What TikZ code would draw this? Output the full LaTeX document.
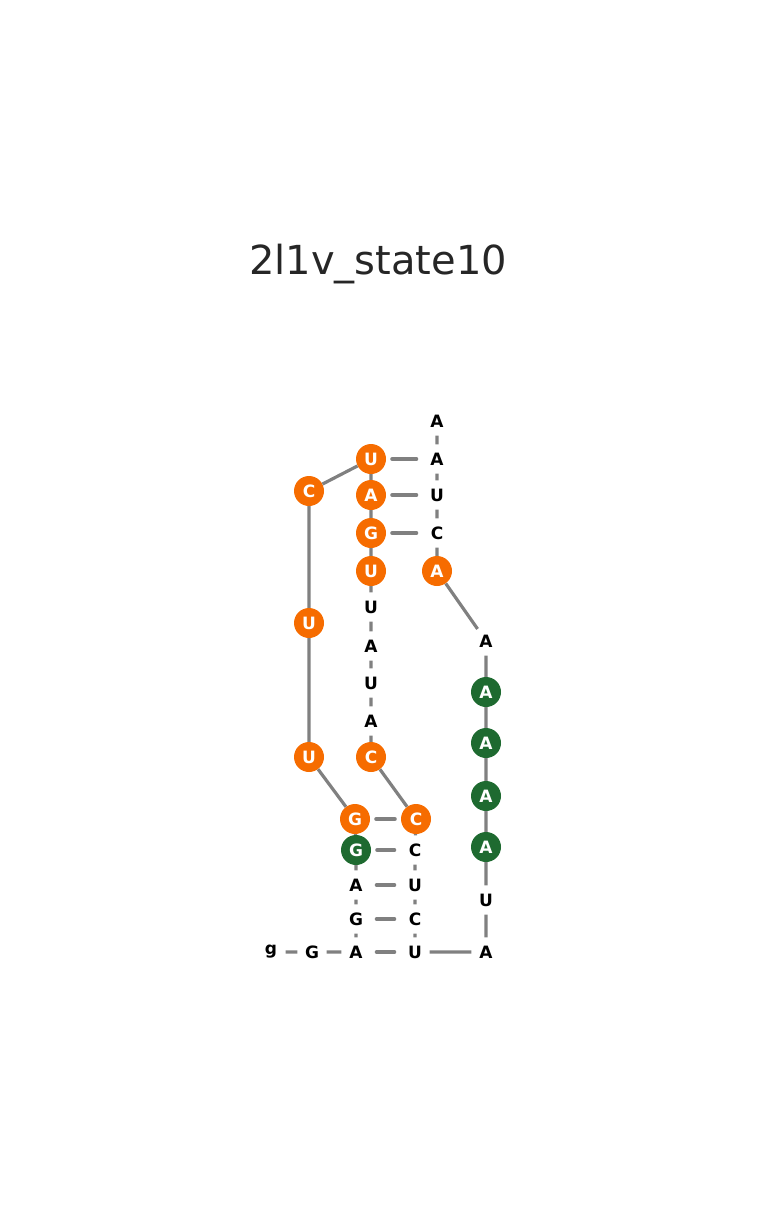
\documentclass[tikz,border=0pt]{standalone}
\usepackage{fontspec}
\setmainfont{DejaVu Sans}
\definecolor{rnaorange}{RGB}{246,108,0}
\definecolor{rnagreen}{RGB}{30,106,48}
\definecolor{titlegray}{RGB}{38,38,38}
\begin{document}
\begin{tikzpicture}[x=1pt, y=-1pt,
  nt/.style={circle, inner sep=0pt, minimum size=29pt, font=\fontsize{17}{17}\selectfont\bfseries},
  ntorange/.style={nt, minimum size=30pt, fill=rnaorange, text=white},
  ntgreen/.style={nt, minimum size=30pt, fill=rnagreen, text=white},
  backbone/.style={line width=3.2pt, gray},
  pair/.style={line width=4pt, gray, line cap=round, shorten <=6pt, shorten >=6pt}]
\useasboundingbox (0,0) rectangle (756,1222);
\node[font=\fontsize{40}{40}\selectfont, text=titlegray, anchor=base] (title) at (378,275) {2l1v\_state10};

% 5' strand
\node[nt] (n1) at (271,952) {g};
\node[nt] (n2) at (312,952) {G};
\node[nt] (n3) at (356,952) {A};
\node[nt] (n4) at (356,919) {G};
\node[nt] (n5) at (356,885) {A};
\node[ntgreen] (n6) at (356,850) {G};
\node[ntorange] (n7) at (355,819) {G};
\node[ntorange] (n8) at (309,757) {U};
\node[ntorange] (n9) at (309,623) {U};
\node[ntorange] (n10) at (309,491) {C};
\node[ntorange] (n11) at (371,459) {U};
\node[ntorange] (n12) at (371,495) {A};
\node[ntorange] (n13) at (371,533) {G};
\node[ntorange] (n14) at (371,571) {U};
\node[nt] (n15) at (371,607) {U};
\node[nt] (n16) at (371,646) {A};
\node[nt] (n17) at (371,683) {U};
\node[nt] (n18) at (371,721) {A};
\node[ntorange] (n19) at (371,757) {C};
\node[ntorange] (n20) at (416,819) {C};
\node[nt] (n21) at (415,850) {C};
\node[nt] (n22) at (415,885) {U};
\node[nt] (n23) at (415,919) {C};
\node[nt] (n24) at (415,952) {U};
% 3' strand
\node[nt] (n25) at (486,952) {A};
\node[nt] (n26) at (486,900) {U};
\node[ntgreen] (n27) at (486,847) {A};
\node[ntgreen] (n28) at (486,796) {A};
\node[ntgreen] (n29) at (486,743) {A};
\node[ntgreen] (n30) at (486,692) {A};
\node[nt] (n31) at (486,641) {A};
\node[ntorange] (n32) at (437,571) {A};
\node[nt] (n33) at (437,533) {C};
\node[nt] (n34) at (437,495) {U};
\node[nt] (n35) at (437,459) {A};
\node[nt] (n36) at (437,421) {A};

% backbone
\draw[backbone] (n1) -- (n2) -- (n3) -- (n4) -- (n5) -- (n6) -- (n7) -- (n8) -- (n9)
  -- (n10) -- (n11) -- (n12) -- (n13) -- (n14) -- (n15) -- (n16) -- (n17) -- (n18)
  -- (n19) -- (n20) -- (n21) -- (n22) -- (n23) -- (n24) -- (n25) -- (n26) -- (n27)
  -- (n28) -- (n29) -- (n30) -- (n31) -- (n32) -- (n33) -- (n34) -- (n35) -- (n36);

% base pairs
\draw[pair] (n3) to (n24);
\draw[pair] (n4) to (n23);
\draw[pair] (n5) to (n22);
\draw[pair] (n6) to (n21);
\draw[pair] (n7) to (n20);
\draw[pair] (n11) to (n35);
\draw[pair] (n12) to (n34);
\draw[pair] (n13) to (n33);
\end{tikzpicture}
\end{document}
